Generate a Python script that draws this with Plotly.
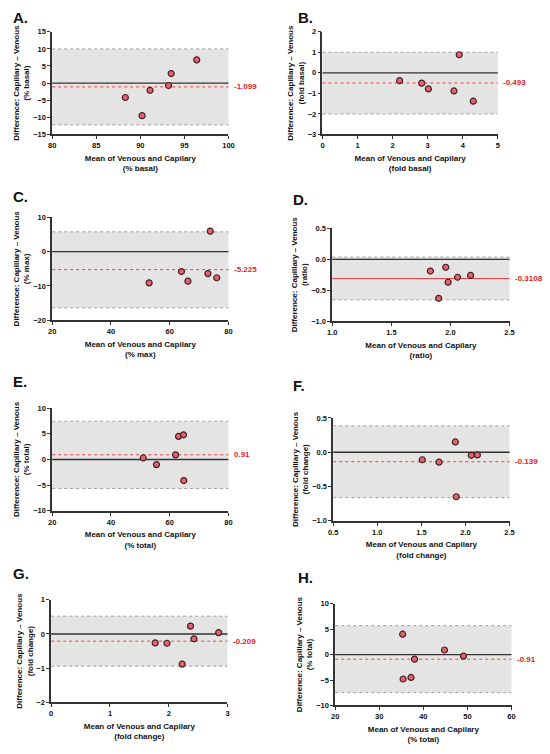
import plotly.graph_objects as go

# panel letters and axis labels
letters = ["A.", "B.", "C.", "D.", "E.", "F.", "G.", "H."]
units = ["% basal", "fold basal", "% max", "ratio", "% total", "fold change", "fold change", "% total"]

# Bland-Altman points: mean (x) and difference (y)
mean_a = [88.3, 90.2, 91.1, 93.2, 93.5, 96.4]
diff_a = [-4.2, -9.5, -2.1, -0.7, 2.8, 6.8]
mean_b = [2.2, 2.83, 3.02, 3.75, 3.9, 4.3]
diff_b = [-0.38, -0.5, -0.78, -0.88, 0.88, -1.38]
mean_c = [53.0, 64.0, 66.2, 73.0, 73.8, 76.0]
diff_c = [-9.1, -5.8, -8.6, -6.4, 6.0, -7.6]
mean_d = [1.83, 1.9, 1.96, 1.98, 2.06, 2.17]
diff_d = [-0.19, -0.63, -0.13, -0.37, -0.29, -0.26]
mean_e = [51.0, 55.5, 62.0, 63.0, 64.7, 64.8]
diff_e = [0.3, -1.0, 0.9, 4.5, 4.8, -4.1]
mean_f = [1.51, 1.7, 1.885, 1.895, 2.065, 2.135]
diff_f = [-0.11, -0.145, 0.15, -0.65, -0.045, -0.04]
mean_g = [1.77, 1.97, 2.23, 2.37, 2.43, 2.85]
diff_g = [-0.26, -0.27, -0.88, 0.23, -0.14, 0.04]
mean_h = [35.3, 35.4, 37.2, 38.0, 44.8, 49.1]
diff_h = [4.0, -4.8, -4.5, -0.9, 0.9, -0.3]

means = [mean_a, mean_b, mean_c, mean_d, mean_e, mean_f, mean_g, mean_h]
diffs = [diff_a, diff_b, diff_c, diff_d, diff_e, diff_f, diff_g, diff_h]

# bias and limits of agreement
bias = [-1.099, -0.493, -5.225, -0.3108, 0.91, -0.139, -0.209, -0.91]
bias_text = ["-1.099", "-0.493", "-5.225", "-0.3108", "0.91", "-0.139", "-0.209", "-0.91"]
upper_loa = [10.0, 1.0, 5.8, 0.035, 7.45, 0.385, 0.52, 5.68]
lower_loa = [-12.2, -2.0, -16.4, -0.655, -5.64, -0.663, -0.94, -7.48]

# axis ranges and tick steps
x_ranges = [[80, 100], [0, 5], [20, 80], [1.0, 2.5], [20, 80], [0.5, 2.5], [0, 3], [20, 60]]
x_dticks = [5, 1, 20, 0.5, 20, 0.5, 1, 10]
y_ranges = [[-15, 15], [-3, 2], [-20, 10], [-1.0, 0.5], [-10, 10], [-1.0, 0.5], [-2, 1], [-10, 10]]
y_dticks = [5, 1, 10, 0.5, 5, 0.5, 1, 5]
tick_fmt = ["", "", "", ".1f", "", ".1f", "", ""]

# page body has an 8px margin, so the figure is laid out in page pixels minus that
PAD = 8
W, H = 550 - 2 * PAD, 754 - 2 * PAD
# plot boxes in page pixels: left, right, top, bottom
boxes = [
    (48, 228, 28, 132), (324, 503, 28, 132),
    (48, 228, 216, 320), (334, 515, 227, 321),
    (48, 228, 409, 513), (335, 515, 419, 523),
    (47, 227, 603, 707), (337, 517, 607, 710),
]
letter_pos = [(6, 14), (297, 14), (6, 195), (292, 198), (6, 382), (292, 386), (6, 576), (297, 580)]

font = "Liberation Sans"
fig = go.Figure()
shapes = []
annotations = []
layout = {}

for i in range(8):
    n = "" if i == 0 else str(i + 1)
    xa, ya = "x" + n, "y" + n
    l, r, t, b = [v - PAD for v in boxes[i]]

    fig.add_trace(go.Scatter(
        x=means[i], y=diffs[i], mode="markers", xaxis=xa, yaxis=ya, showlegend=False,
        marker=dict(size=6, color="#e2646f", line=dict(color="#4a1f22", width=1.2)),
    ))

    axis_common = dict(
        showgrid=False, zeroline=False, showline=True, linecolor="#333", linewidth=1.6,
        ticks="outside", ticklen=3, tickwidth=1.3, tickcolor="#333",
        tickfont=dict(family=font, size=7.5, color="#111", weight="bold"),
    )
    layout["xaxis" + n] = dict(
        axis_common, domain=[l / W, r / W], anchor=ya, range=x_ranges[i],
        dtick=x_dticks[i], tickformat=tick_fmt[i],
        title=dict(text="Mean of Venous and Capilary<br>(" + units[i] + ")", standoff=6,
                   font=dict(family=font, size=8, color="#111", weight="bold")),
    )
    layout["yaxis" + n] = dict(
        axis_common, domain=[1 - b / H, 1 - t / H], anchor=xa, range=y_ranges[i],
        dtick=y_dticks[i], tickformat=tick_fmt[i],
        title=dict(text="Difference: Capillary – Venous<br>(" + units[i] + ")", standoff=2,
                   font=dict(family=font, size=8, color="#111", weight="bold")),
    )

    xd = xa + " domain"
    shapes.append(dict(type="rect", xref=xd, yref=ya, x0=0, x1=1, y0=lower_loa[i], y1=upper_loa[i],
                       fillcolor="#e4e4e4", line=dict(width=0), layer="below"))
    for v in (lower_loa[i], upper_loa[i]):
        shapes.append(dict(type="line", xref=xd, yref=ya, x0=0, x1=1, y0=v, y1=v,
                           line=dict(color="#a0a0a0", width=1, dash="dot"), layer="below"))
    shapes.append(dict(type="line", xref=xd, yref=ya, x0=0, x1=1, y0=0, y1=0,
                       line=dict(color="#333", width=1.3), layer="below"))
    shapes.append(dict(type="line", xref=xd, yref=ya, x0=0, x1=1, y0=bias[i], y1=bias[i],
                       line=dict(color="#f04040", width=1, dash="dot" if i != 3 else "solid"),
                       layer="below"))
    annotations.append(dict(xref=xd, yref=ya, x=1.02, y=bias[i], text=bias_text[i], showarrow=False,
                            xanchor="left", yanchor="middle",
                            font=dict(family=font, size=8, color="#e8202a", weight="bold")))
    lx, ly = letter_pos[i]
    annotations.append(dict(xref="paper", yref="paper", x=(lx - PAD) / W, y=1 - (ly - PAD) / H,
                            text=letters[i], showarrow=False, xanchor="left", yanchor="middle",
                            font=dict(family=font, size=15, color="#111", weight="bold")))

fig.update_layout(
    width=W, height=H, margin=dict(l=0, r=0, t=0, b=0),
    paper_bgcolor="white", plot_bgcolor="white",
    shapes=shapes, annotations=annotations, **layout,
)
fig.write_html("out.html")
